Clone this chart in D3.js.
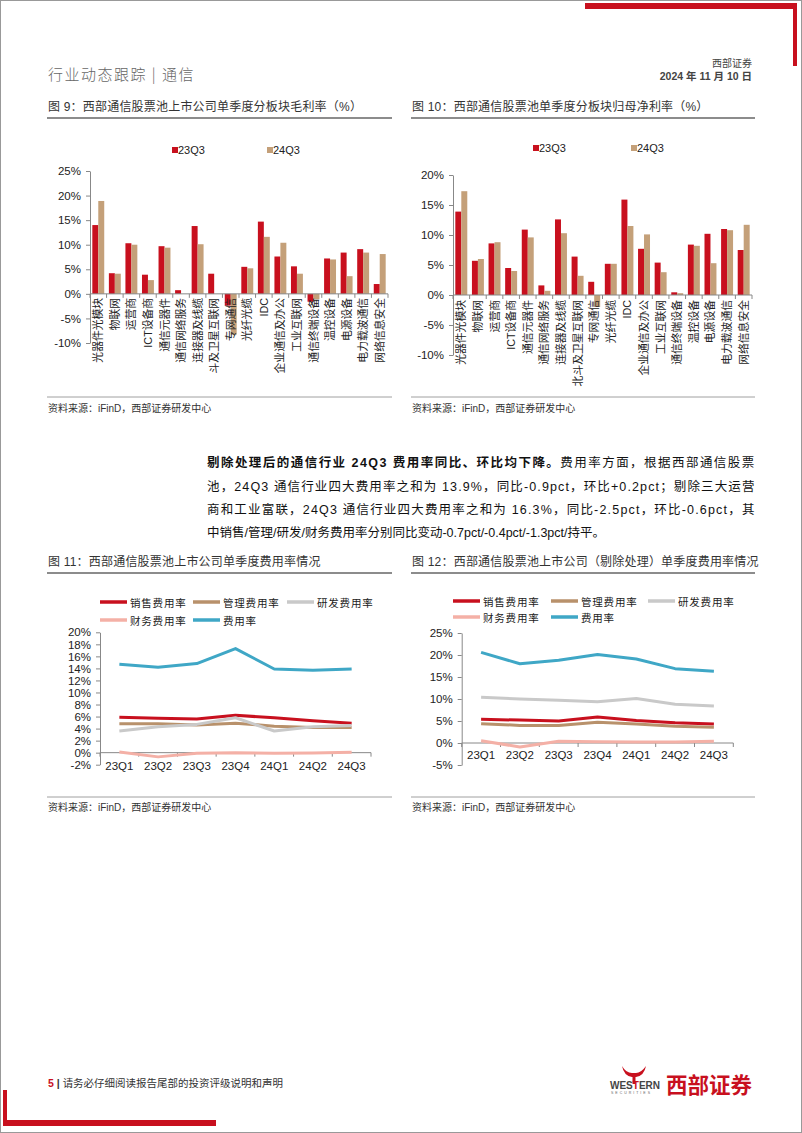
<!DOCTYPE html>
<html><head><meta charset="utf-8">
<script src="https://cdn.jsdelivr.net/npm/d3@7"></script>
<style>body{margin:0;background:#fff}svg{display:block}</style>
</head><body>
<script>
// ---------- DATA ----------
const segments = ["光器件光模块","物联网","运营商","ICT设备商","通信元器件","通信网络服务","连接器及线缆","北斗及卫星互联网","专网通信","光纤光缆","IDC","企业通信及办公","工业互联网","通信终端设备","温控设备","电源设备","电力载波通信","网络信息安全"];
const barSeries = ["23Q3","24Q3"];
const gross23Q3 = [14.0,4.2,10.3,3.9,9.7,0.75,13.8,4.1,-2.4,5.5,14.7,7.6,5.6,-1.6,7.2,8.4,9.1,2.0];
const gross24Q3 = [18.9,4.1,10.0,2.8,9.4,0.0,10.1,0.0,-8.3,5.2,11.6,10.4,4.1,-1.1,7.0,3.6,8.4,8.1];
const net23Q3 = [13.9,5.7,8.6,4.5,10.9,1.6,12.6,6.4,2.2,5.2,15.9,7.7,5.4,0.45,8.4,10.2,11.0,7.5];
const net24Q3 = [17.3,6.0,8.8,4.0,9.6,0.7,10.3,3.2,-2.0,5.2,11.5,10.1,3.8,0.3,8.2,5.3,10.8,11.7];
const grossTicks = [-10,-5,0,5,10,15,20,25];
const netTicks = [-10,-5,0,5,10,15,20];

const quarters = ["23Q1","23Q2","23Q3","23Q4","24Q1","24Q2","24Q3"];
const expenseNames = ["销售费用率","管理费用率","研发费用率","财务费用率","费用率"];
const sales11 = [5.9,5.7,5.6,6.2,5.8,5.3,4.9];
const mgmt11  = [4.8,4.8,4.6,4.9,4.4,4.2,4.2];
const rd11    = [3.6,4.3,4.7,5.8,3.6,4.3,4.5];
const fin11   = [0.1,-0.7,-0.1,0.0,-0.1,-0.05,0.05];
const total11 = [14.7,14.2,14.8,17.3,13.9,13.7,13.9];
const sales12 = [5.4,5.2,5.0,5.9,5.1,4.6,4.3];
const mgmt12  = [4.4,4.0,4.0,4.7,4.3,3.8,3.6];
const rd12    = [10.4,10.0,9.7,9.4,10.1,8.8,8.4];
const fin12   = [0.5,-0.9,0.4,0.3,0.2,0.2,0.4];
const total12 = [20.6,18.0,18.8,20.1,19.1,16.9,16.3];
const ticks11 = [-2,0,2,4,6,8,10,12,14,16,18,20];
const ticks12 = [-5,0,5,10,15,20,25];

// ---------- STYLE ----------
const CJK = "'Noto Sans CJK SC','Noto Sans',sans-serif";
const MIX = "'Liberation Sans',Arial,'Noto Sans CJK SC',sans-serif";
const RED = "#C8101E", TAN = "#C4A079";
const lineColors = ["#C8101E","#B8916B","#C9C9C9","#F4B0A6","#3FA7C6"];

const svg = d3.select("body").append("svg").attr("width",802).attr("height",1133);

// page frame & decorations
svg.append("rect").attr("x",0.5).attr("y",0.5).attr("width",801).attr("height",1132).attr("fill","none").attr("stroke","#999");
svg.append("rect").attr("x",585).attr("y",3).attr("width",212).attr("height",6).attr("fill","#C8101E");
svg.append("rect").attr("x",793).attr("y",3).attr("width",4).attr("height",63).attr("fill","#C8101E");
svg.append("rect").attr("x",3).attr("y",1090).attr("width",4).attr("height",36).attr("fill","#C8101E");
svg.append("rect").attr("x",3).attr("y",1120).attr("width",213).attr("height",6).attr("fill","#C8101E");

// header
svg.append("text").attr("x",48).attr("y",73).attr("dominant-baseline","central")
  .attr("font-family",CJK).attr("font-size",15).attr("font-weight",300).attr("fill","#666").attr("letter-spacing",1.5)
  .text("行业动态跟踪 | 通信");
svg.append("text").attr("x",752).attr("y",62).attr("dominant-baseline","central").attr("text-anchor","end")
  .attr("font-family",CJK).attr("font-size",10).attr("fill","#444").text("西部证券");
svg.append("text").attr("x",752).attr("y",76).attr("dominant-baseline","central").attr("text-anchor","end")
  .attr("font-family",MIX).attr("font-size",10.5).attr("font-weight","bold").attr("fill","#444").text("2024 年 11 月 10 日");

function titleBlock(x, x2, text, ty, ly){
  svg.append("text").attr("x",x).attr("y",ty).attr("dominant-baseline","central")
    .attr("font-family",MIX).attr("font-size",12).attr("fill","#333").attr("letter-spacing",0.2).text(text);
  svg.append("line").attr("x1",x-1).attr("x2",x2).attr("y1",ly).attr("y2",ly).attr("stroke","#666").attr("stroke-width",1.3);
}
function sourceBlock(x, x2, ly, ty){
  svg.append("line").attr("x1",x-1).attr("x2",x2).attr("y1",ly).attr("y2",ly).attr("stroke","#888").attr("stroke-width",0.8);
  svg.append("text").attr("x",x).attr("y",ty).attr("dominant-baseline","central")
    .attr("font-family",MIX).attr("font-size",10).attr("fill","#333").text("资料来源：iFinD，西部证券研发中心");
}

// ---------- BAR CHARTS ----------
function barChart(cfg){
  const g = svg.append("g");
  const x0 = d3.scaleBand().domain(segments).range([cfg.left, cfg.right]);
  const bw = x0.bandwidth();
  const x1 = d3.scaleBand().domain(barSeries).range([bw*0.14, bw*0.86]);
  const y = d3.scaleLinear().domain([cfg.ticks[0], cfg.ticks[cfg.ticks.length-1]]).range([cfg.bottom, cfg.top]);
  const vals = [cfg.a, cfg.b];
  barSeries.forEach((s,si)=>{
    g.selectAll(null).data(segments).enter().append("rect")
      .attr("x",d=>x0(d)+x1(s)).attr("width",x1.bandwidth())
      .attr("y",(d,i)=>y(Math.max(0,vals[si][i])))
      .attr("height",(d,i)=>Math.abs(y(vals[si][i])-y(0)))
      .attr("fill",si===0?RED:TAN);
  });
  const ya = g.append("g").attr("transform",`translate(${cfg.left},0)`)
    .call(d3.axisLeft(y).tickValues(cfg.ticks).tickFormat(d=>d+"%").tickSize(4).tickSizeOuter(0).tickPadding(5));
  ya.selectAll("path,line").attr("stroke","#888");
  ya.selectAll("text").attr("font-family",MIX).attr("font-size",11.5).attr("fill","#222");
  const y0 = y(0);
  g.append("line").attr("x1",cfg.left).attr("x2",cfg.right).attr("y1",y0).attr("y2",y0).attr("stroke","#888");
  const bounds = segments.map(d=>x0(d)).concat([cfg.right]);
  g.selectAll(null).data(bounds).enter().append("line")
    .attr("x1",d=>d).attr("x2",d=>d).attr("y1",y0).attr("y2",y0+4).attr("stroke","#888");
  const cid = "clip"+cfg.id;
  svg.append("clipPath").attr("id",cid).append("rect").attr("x",cfg.left-20).attr("y",0).attr("width",400).attr("height",cfg.clip);
  const lg = g.append("g").attr("clip-path",`url(#${cid})`);
  lg.selectAll(null).data(segments).enter().append("text")
    .attr("transform",d=>`translate(${x0(d)+bw/2},${y0+cfg.lab}) rotate(-90)`)
    .attr("text-anchor","end").attr("dominant-baseline","central")
    .attr("font-family",MIX).attr("font-size",10.8).attr("fill","#222").text(d=>d);
  barSeries.forEach((s,si)=>{
    const lx = cfg.legX[si];
    g.append("rect").attr("x",lx).attr("y",cfg.legY-3).attr("width",6).attr("height",6).attr("fill",si===0?RED:TAN);
    g.append("text").attr("x",lx+6).attr("y",cfg.legY).attr("dominant-baseline","central")
      .attr("font-family",MIX).attr("font-size",11).attr("fill","#222").text(s);
  });
}

titleBlock(48, 392, "图 9：西部通信股票池上市公司单季度分板块毛利率（%）", 107, 118);
titleBlock(412, 755, "图 10：西部通信股票池单季度分板块归母净利率（%）", 107, 118);
barChart({id:9,left:90,right:388,top:171,bottom:343,ticks:grossTicks,a:gross23Q3,b:gross24Q3,clip:373,lab:4,legX:[172,267],legY:150});
barChart({id:10,left:453,right:752,top:175,bottom:355,ticks:netTicks,a:net23Q3,b:net24Q3,clip:390,lab:5,legX:[533,631],legY:148});
sourceBlock(48, 392, 397, 408);
sourceBlock(412, 755, 397, 408);

// ---------- PARAGRAPH ----------
const para = [
  [["剔除处理后的通信行业 24Q3 费用率同比、环比均下降。",true],["费用率方面，根据西部通信股票",false]],
  [["池，24Q3 通信行业四大费用率之和为 13.9%，同比-0.9pct，环比+0.2pct；剔除三大运营",false]],
  [["商和工业富联，24Q3 通信行业四大费用率之和为 16.3%，同比-2.5pct，环比-0.6pct，其",false]],
  [["中销售/管理/研发/财务费用率分别同比变动-0.7pct/-0.4pct/-1.3pct/持平。",false]]
];
const paraY = [463,487,510,533];
const paraW = [548,548,548,null];
para.forEach((parts,i)=>{
  const t = svg.append("text").attr("x",207).attr("y",paraY[i]).attr("dominant-baseline","central")
    .attr("font-family",MIX).attr("font-size",12.5).attr("fill","#111");
  parts.forEach(p=>t.append("tspan").attr("font-weight",p[1]?"bold":"normal").text(p[0]));
  if (paraW[i]) {
    const n = parts.map(p=>p[0]).join("").length;
    const w = t.node().getComputedTextLength();
    t.attr("letter-spacing",(paraW[i]-w)/(n-0.5));
  }
});

// ---------- LINE CHARTS ----------
function lineChart(cfg){
  const g = svg.append("g");
  const x = d3.scaleBand().domain(quarters).range([cfg.left,cfg.right]);
  const bw = x.bandwidth();
  const y = d3.scaleLinear().domain([cfg.ticks[0],cfg.ticks[cfg.ticks.length-1]]).range([cfg.bottom,cfg.top]);
  const ya = g.append("g").attr("transform",`translate(${cfg.left},0)`)
    .call(d3.axisLeft(y).tickValues(cfg.ticks).tickFormat(d=>d+"%").tickSize(4).tickSizeOuter(0).tickPadding(5));
  ya.selectAll("path,line").attr("stroke","#888");
  ya.selectAll("text").attr("font-family",MIX).attr("font-size",11.5).attr("fill","#222");
  const y0 = y(0);
  g.append("line").attr("x1",cfg.left).attr("x2",cfg.right).attr("y1",y0).attr("y2",y0).attr("stroke","#888");
  const bounds = quarters.map(d=>x(d)).concat([cfg.right]);
  g.selectAll(null).data(bounds).enter().append("line")
    .attr("x1",d=>d).attr("x2",d=>d).attr("y1",y0).attr("y2",y0+4).attr("stroke","#888");
  g.selectAll(null).data(quarters).enter().append("text")
    .attr("x",d=>x(d)+bw/2).attr("y",cfg.labY).attr("text-anchor","middle").attr("dominant-baseline","central")
    .attr("font-family",MIX).attr("font-size",11.5).attr("fill","#222").text(d=>d);
  const line = d3.line().x((d,i)=>x(quarters[i])+bw/2).y(d=>y(d));
  cfg.series.forEach((s,si)=>{
    g.append("path").attr("d",line(s)).attr("fill","none").attr("stroke",lineColors[si])
      .attr("stroke-width",3).attr("stroke-linejoin","round");
  });
  expenseNames.forEach((nm,i)=>{
    const row = i<3?0:1, col = i<3?i:i-3;
    const lx = cfg.legX[col], ly = cfg.legY[row];
    g.append("line").attr("x1",lx).attr("x2",lx+27).attr("y1",ly).attr("y2",ly)
      .attr("stroke",lineColors[i]).attr("stroke-width",3.5);
    g.append("text").attr("x",lx+30).attr("y",ly).attr("dominant-baseline","central")
      .attr("font-family",CJK).attr("font-size",10.5).attr("letter-spacing",0.8).attr("fill","#222").text(nm);
  });
}

titleBlock(48, 392, "图 11：西部通信股票池上市公司单季度费用率情况", 562, 573);
titleBlock(412, 755, "图 12：西部通信股票池上市公司（剔除处理）单季度费用率情况", 562, 573);
lineChart({left:100,right:371,top:632.3,bottom:764.7,ticks:ticks11,labY:766,legX:[100,193,287],legY:[602,620],
  series:[sales11,mgmt11,rd11,fin11,total11]});
lineChart({left:461.7,right:733.3,top:633,bottom:765,ticks:ticks12,labY:755,legX:[453,551,648],legY:[601,617],
  series:[sales12,mgmt12,rd12,fin12,total12]});
sourceBlock(48, 392, 797, 807);
sourceBlock(412, 755, 797, 807);

// ---------- FOOTER ----------
const ft = svg.append("text").attr("x",48).attr("y",1083).attr("dominant-baseline","central")
  .attr("font-family",MIX).attr("font-size",10.5).attr("fill","#333");
ft.append("tspan").attr("fill","#C8101E").attr("font-weight","bold").text("5");
ft.append("tspan").attr("font-weight","bold").text(" | ");
ft.append("tspan").text("请务必仔细阅读报告尾部的投资评级说明和声明");

// logo
const logo = svg.append("g");
logo.append("path").attr("d","M622,1066 Q624,1076 632,1077 L636,1077 Q644,1076 646,1066 Q641,1073 636,1073 L632,1073 Q626,1073 622,1066 Z")
  .attr("fill","#C8101E");
logo.append("rect").attr("x",632.5).attr("y",1076).attr("width",3).attr("height",8).attr("fill","#C8101E");
const wt = logo.append("text").attr("x",610).attr("y",1085).attr("dominant-baseline","central")
  .attr("font-family",MIX).attr("font-size",10).attr("font-weight","bold").attr("fill","#444");
wt.append("tspan").text("WES");
wt.append("tspan").attr("fill","#C8101E").text("T");
wt.append("tspan").text("ERN");
logo.append("text").attr("x",611).attr("y",1093).attr("dominant-baseline","central")
  .attr("font-family",MIX).attr("font-size",3.5).attr("letter-spacing",2).attr("fill","#666").text("SECURITIES");
logo.append("text").attr("x",666).attr("y",1083).attr("dominant-baseline","central")
  .attr("font-family",CJK).attr("font-size",21.5).attr("font-weight","bold").attr("fill","#C8101E").text("西部证券");
</script>
</body></html>
